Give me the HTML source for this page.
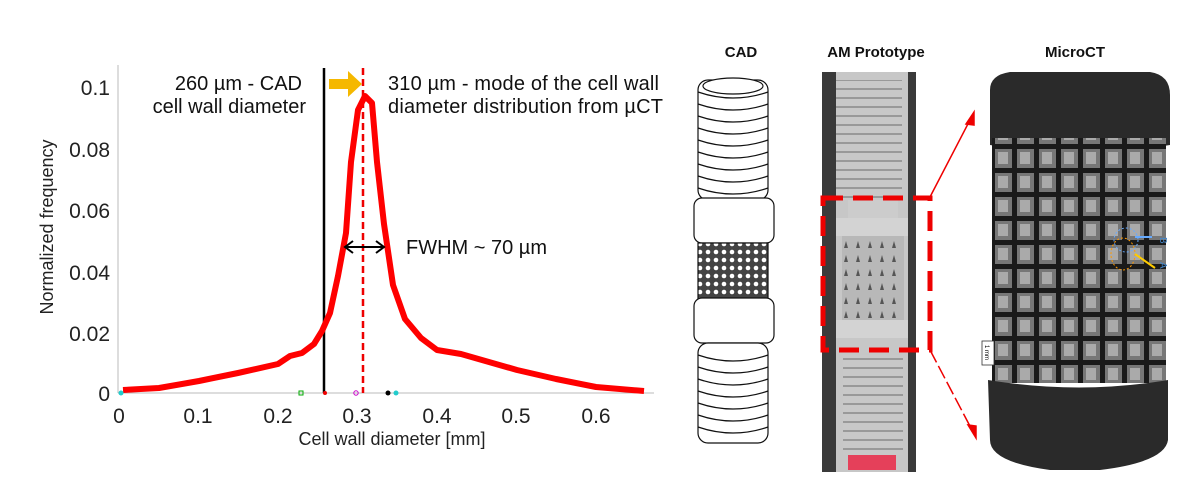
<!DOCTYPE html>
<html><head><meta charset="utf-8"><style>
body{margin:0;background:#fff;width:1200px;height:500px;overflow:hidden}
svg{display:block}
text{font-family:"Liberation Sans",sans-serif}
</style></head><body>
<svg width="1200" height="500" viewBox="0 0 1200 500">
<defs>
<pattern id="cadlat" width="8" height="8" patternUnits="userSpaceOnUse"><rect width="8" height="8" fill="#444"/><circle cx="4" cy="4" r="2.3" fill="#fff"/></pattern>
<pattern id="amlat" width="12" height="14" patternUnits="userSpaceOnUse"><rect width="12" height="14" fill="#b8b8b8"/><path d="M6 3 L8 10 L4 10Z" fill="#555"/></pattern>
<pattern id="ctlat" width="22" height="24" patternUnits="userSpaceOnUse"><rect width="22" height="24" fill="#777"/><rect x="0" y="0" width="5" height="24" fill="#1a1a1a"/><rect x="0" y="0" width="22" height="5" fill="#1a1a1a"/><rect x="8" y="8" width="10" height="12" fill="#aaa"/></pattern>
<pattern id="thr" width="10" height="9" patternUnits="userSpaceOnUse"><rect width="10" height="9" fill="#c8c8c8"/><rect y="7" width="10" height="2" fill="#999"/></pattern>
</defs>
<!-- axes -->
<line x1="118" y1="65" x2="118" y2="393" stroke="#bbb" stroke-width="1"/>
<line x1="118" y1="393" x2="654" y2="393" stroke="#bbb" stroke-width="1"/>
<g font-size="21" fill="#222" text-anchor="end">
<text x="110" y="95">0.1</text><text x="110" y="157">0.08</text><text x="110" y="218">0.06</text><text x="110" y="280">0.04</text><text x="110" y="341">0.02</text><text x="110" y="401">0</text>
</g>
<g font-size="21" fill="#222" text-anchor="middle">
<text x="119" y="423">0</text><text x="198" y="423">0.1</text><text x="278" y="423">0.2</text><text x="357" y="423">0.3</text><text x="437" y="423">0.4</text><text x="516" y="423">0.5</text><text x="596" y="423">0.6</text>
</g>
<text x="392" y="445" font-size="18" text-anchor="middle" fill="#222">Cell wall diameter [mm]</text>
<text transform="translate(53,227) rotate(-90)" font-size="18" text-anchor="middle" fill="#222">Normalized frequency</text>
<!-- lines -->
<line x1="324" y1="68" x2="324" y2="393" stroke="#000" stroke-width="2.5"/>
<line x1="363" y1="68" x2="363" y2="393" stroke="#e00" stroke-width="2.5" stroke-dasharray="7,4"/>
<path d="M329 79 H348 V71 L362 84 L348 97 V89 H329Z" fill="#f5b800"/>
<polyline fill="none" stroke="#f00" stroke-width="6" stroke-linejoin="round" points="123,390 159,388 199,381 238,373 278,364 290,356 302,353 314,344 322,331 330,313 338,276 346,233 351,162 358,110 365,96 372,103 377,162 384,224 393,285 405,319 421,338 437,350 461,354 517,370 556,379 596,387 644,391"/>
<g fill="none" stroke="#000" stroke-width="2"><line x1="346" y1="247" x2="383" y2="247"/><path d="M353 241 L345 247 L353 253 M376 241 L384 247 L376 253"/></g>
<text x="406" y="254" font-size="20" fill="#111">FWHM ~ 70 µm</text>
<g font-size="20" fill="#111" text-anchor="end"><text x="302" y="90">260 µm - CAD</text><text x="306" y="113">cell wall diameter</text></g>
<g font-size="20" fill="#111" textLength="271"><text x="388" y="90" textLength="271">310 µm - mode of the cell wall</text><text x="388" y="113" textLength="275">diameter distribution from µCT</text></g>
<g><circle cx="121" cy="393" r="2.5" fill="#2cc"/><rect x="299" y="391" width="4" height="4" fill="none" stroke="#0a0"/><circle cx="325" cy="393" r="2" fill="#e00"/><circle cx="356" cy="393" r="2.2" fill="none" stroke="#c0c"/><circle cx="388" cy="393" r="2.5" fill="#000"/><circle cx="396" cy="393" r="2.5" fill="#2cc"/></g>
<!-- titles -->
<g font-size="15" font-weight="bold" fill="#111" text-anchor="middle"><text x="741" y="57">CAD</text><text x="876" y="57">AM Prototype</text><text x="1075" y="57">MicroCT</text></g>
<!-- CAD -->
<g stroke="#111" stroke-width="1.2" fill="#fff">
<rect x="698" y="80" width="70" height="120" rx="10"/>
<g fill="none"><path d="M698 92 Q733 104 768 92 M698 104 Q733 116 768 104 M698 116 Q733 128 768 116 M698 128 Q733 140 768 128 M698 140 Q733 152 768 140 M698 152 Q733 164 768 152 M698 164 Q733 176 768 164 M698 176 Q733 188 768 176 M698 188 Q733 200 768 188"/></g>
<ellipse cx="733" cy="86" rx="30" ry="8"/>
<rect x="694" y="198" width="80" height="45" rx="8"/>
<rect x="698" y="243" width="70" height="57" fill="url(#cadlat)"/>
<rect x="694" y="298" width="80" height="45" rx="8"/>
<rect x="698" y="343" width="70" height="100" rx="10"/>
<g fill="none"><path d="M698 355 Q733 367 768 355 M698 367 Q733 379 768 367 M698 379 Q733 391 768 379 M698 391 Q733 403 768 391 M698 403 Q733 415 768 403 M698 415 Q733 427 768 415 M698 427 Q733 439 768 427"/></g>
</g>
<!-- AM prototype -->
<rect x="822" y="72" width="94" height="400" fill="#3a3a3a"/>
<rect x="836" y="72" width="72" height="400" fill="#c7c7c7"/>
<rect x="836" y="80" width="66" height="120" fill="url(#thr)"/>
<rect x="848" y="200" width="50" height="20" fill="#ccc"/>
<rect x="836" y="218" width="72" height="18" fill="#d3d3d3"/>
<rect x="842" y="236" width="62" height="85" fill="url(#amlat)"/>
<rect x="836" y="320" width="72" height="18" fill="#d3d3d3"/>
<rect x="843" y="355" width="60" height="100" fill="url(#thr)"/>
<rect x="848" y="455" width="48" height="15" fill="#e5405a"/>
<rect x="823" y="198" width="107" height="152" fill="none" stroke="#e00" stroke-width="5" stroke-dasharray="20,10"/>
<!-- arrows -->
<g stroke="#e00" stroke-width="1.5" fill="#e00"><line x1="930" y1="197" x2="970" y2="120"/><path d="M974 112 L966 124 L974 125Z"/><line x1="930" y1="350" x2="972" y2="430" stroke-dasharray="14,4"/><path d="M976 438 L968 425 L976 426Z"/></g>
<!-- MicroCT -->
<path d="M990 90 Q990 75 1010 72 L1150 72 Q1170 75 1170 95 L1170 145 Q1080 160 990 145Z" fill="#2a2a2a"/>
<rect x="992" y="138" width="174" height="245" fill="url(#ctlat)"/>
<path d="M988 380 Q1080 395 1168 380 L1168 440 Q1165 462 1100 470 L1050 470 Q990 462 990 440Z" fill="#2a2a2a"/>
<ellipse cx="1126" cy="240" rx="12" ry="12" fill="none" stroke="#6af" stroke-dasharray="2,2"/>
<ellipse cx="1123" cy="254" rx="12" ry="16" fill="none" stroke="#f90" stroke-dasharray="2,2"/>
<line x1="1152" y1="237" x2="1135" y2="237" stroke="#6af" stroke-width="2"/>
<line x1="1155" y1="268" x2="1135" y2="254" stroke="#fc0" stroke-width="2"/>
<text x="1160" y="237" font-size="10" fill="#48c" transform="rotate(90 1160 237)">B</text>
<text x="1160" y="262" font-size="10" fill="#48c" transform="rotate(90 1160 262)">A</text>
<rect x="982" y="341" width="12" height="24" fill="#fff" stroke="#333" stroke-width="0.8"/>
<text x="985" y="345" font-size="6" transform="rotate(90 985 345)" fill="#000">1 mm</text>
</svg>
</body></html>
